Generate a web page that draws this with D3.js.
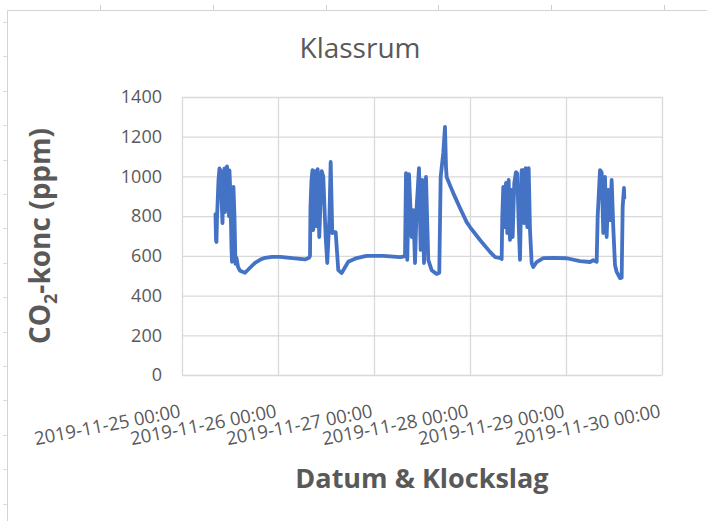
<!DOCTYPE html>
<html><head><meta charset="utf-8">
<script src="https://cdn.jsdelivr.net/npm/d3@7"></script>
<style>html,body{margin:0;padding:0;background:#fff;}svg{display:block;}</style>
</head><body>
<svg id="chart" width="707" height="521"></svg>
<script>
const chartTitle = "Klassrum";
const xTitle = "Datum & Klockslag";
const xTickLabels = ["2019-11-25 00:00","2019-11-26 00:00","2019-11-27 00:00","2019-11-28 00:00","2019-11-29 00:00","2019-11-30 00:00"];
const yTicks = [0,200,400,600,800,1000,1200,1400];
const times = [
"2019-11-25 08:22","2019-11-25 08:30","2019-11-25 08:37","2019-11-25 08:45","2019-11-25 09:07","2019-11-25 09:22","2019-11-25 09:37","2019-11-25 09:52","2019-11-25 10:07","2019-11-25 10:22","2019-11-25 10:37","2019-11-25 10:45","2019-11-25 11:00","2019-11-25 11:15","2019-11-25 11:30","2019-11-25 11:45","2019-11-25 11:52","2019-11-25 12:07","2019-11-25 12:22","2019-11-25 12:30","2019-11-25 12:52","2019-11-25 13:07","2019-11-25 13:22","2019-11-25 13:37","2019-11-25 14:00","2019-11-25 14:30","2019-11-25 15:45","2019-11-25 17:00","2019-11-25 18:15","2019-11-25 19:30","2019-11-25 20:45","2019-11-25 22:30","2019-11-26 00:30","2019-11-26 03:00","2019-11-26 05:30","2019-11-26 06:45","2019-11-26 07:45",
"2019-11-26 08:00","2019-11-26 08:07","2019-11-26 08:22","2019-11-26 08:37","2019-11-26 08:49","2019-11-26 09:15","2019-11-26 09:40","2019-11-26 09:55","2019-11-26 10:19","2019-11-26 10:55","2019-11-26 11:19","2019-11-26 11:55","2019-11-26 12:19","2019-11-26 12:52","2019-11-26 13:10","2019-11-26 13:34","2019-11-26 14:00","2019-11-26 14:25","2019-11-26 15:04","2019-11-26 15:55","2019-11-26 17:34","2019-11-26 19:40","2019-11-26 22:10","2019-11-27 02:19","2019-11-27 06:30","2019-11-27 07:19","2019-11-27 07:45",
"2019-11-27 08:00","2019-11-27 08:19","2019-11-27 08:45","2019-11-27 09:25","2019-11-27 09:49","2019-11-27 10:15","2019-11-27 10:40","2019-11-27 11:15","2019-11-27 11:40","2019-11-27 12:04","2019-11-27 12:30","2019-11-27 13:00","2019-11-27 13:34","2019-11-27 14:25","2019-11-27 15:40","2019-11-27 16:19","2019-11-27 16:40","2019-11-27 17:19","2019-11-27 17:45","2019-11-27 18:00","2019-11-27 18:10","2019-11-27 19:00","2019-11-27 19:49","2019-11-27 20:40","2019-11-27 21:30","2019-11-27 23:10","2019-11-28 00:00","2019-11-28 02:30","2019-11-28 05:00","2019-11-28 06:15","2019-11-28 07:30","2019-11-28 07:55",
"2019-11-28 08:04","2019-11-28 08:19","2019-11-28 08:45","2019-11-28 09:00","2019-11-28 09:19","2019-11-28 09:40","2019-11-28 10:00","2019-11-28 10:19","2019-11-28 10:40","2019-11-28 11:04","2019-11-28 11:30","2019-11-28 11:49","2019-11-28 12:10","2019-11-28 12:30","2019-11-28 12:55","2019-11-28 13:19","2019-11-28 13:34","2019-11-28 13:55","2019-11-28 14:19","2019-11-28 14:40","2019-11-28 15:00","2019-11-28 15:25","2019-11-28 15:49","2019-11-28 16:40","2019-11-28 18:19","2019-11-28 20:49","2019-11-29 00:10","2019-11-29 03:30","2019-11-29 06:00","2019-11-29 06:49","2019-11-29 07:40",
"2019-11-29 07:55","2019-11-29 08:30","2019-11-29 08:55","2019-11-29 09:19","2019-11-29 09:45","2019-11-29 10:10","2019-11-29 10:34","2019-11-29 11:00","2019-11-29 11:25","2019-11-29 11:49","2019-11-29 12:15","2019-11-29 12:40","2019-11-29 13:30","2019-11-29 13:55","2019-11-29 14:10","2019-11-29 14:30","2019-11-29 14:34"
];
const co2 = [
810,680,670,790,980,1040,1030,900,765,980,1040,820,1000,1050,990,800,1030,900,640,570,947,800,560,590,545,525,515,540,565,580,590,595,595,590,585,582,590,
600,846,980,1032,730,1027,750,1037,695,1027,1000,695,564,800,1073,715,720,720,528,514,570,589,600,600,594,596,600,
1017,580,1012,695,830,564,846,1042,630,982,564,997,580,528,509,515,997,1118,1249,1047,997,955,916,878,841,770,745,680,620,594,590,584,
796,947,745,967,715,982,680,932,695,967,1022,1015,765,580,1032,1032,765,1042,745,1042,730,564,544,569,589,590,588,574,569,578,570,
796,1032,1020,715,997,695,932,780,982,745,554,519,488,490,846,942,891
];

const parse = d3.timeParse("%Y-%m-%d %H:%M");
const data = times.map((t,i)=>({t:parse(t), v:co2[i]}));
const tickDates = xTickLabels.map(parse);

const svg = d3.select("#chart");
const grey = "#595959", grid = "#d9d9d9";
const m = {left:182, right:662, top:97, bottom:375};

// frame of the chart object
svg.append("line").attr("x1",7.5).attr("x2",707).attr("y1",10.5).attr("y2",10.5).attr("stroke","#d4d4d4");
svg.append("line").attr("x1",7.5).attr("x2",7.5).attr("y1",10.5).attr("y2",521).attr("stroke","#d4d4d4");
const rulerTop = d3.range(6).map(i=>100+i*112.8);
svg.selectAll(".rt").data(rulerTop).join("line").attr("x1",d=>Math.round(d)+0.5).attr("x2",d=>Math.round(d)+0.5).attr("y1",5).attr("y2",10).attr("stroke","#cfcfcf");
const rulerLeft = d3.range(15).map(i=>22+i*34.4);
svg.selectAll(".rl").data(rulerLeft).join("line").attr("y1",d=>Math.round(d)+0.5).attr("y2",d=>Math.round(d)+0.5).attr("x1",3).attr("x2",7).attr("stroke","#dcdcdc");

const x = d3.scaleTime().domain([tickDates[0], tickDates[tickDates.length-1]]).range([m.left, m.right]);
const y = d3.scaleLinear().domain([0,1400]).range([m.bottom, m.top]);

// gridlines
svg.append("g").attr("transform",`translate(${m.left},0)`)
  .call(d3.axisLeft(y).tickValues(yTicks).tickSize(-(m.right-m.left)).tickFormat(""))
  .call(g=>g.select(".domain").remove())
  .call(g=>g.selectAll("line").attr("stroke",grid).attr("stroke-width",1.3));
svg.append("g").attr("transform",`translate(0,${m.bottom})`)
  .call(d3.axisBottom(x).tickValues(tickDates).tickSize(-(m.bottom-m.top)).tickFormat(""))
  .call(g=>g.select(".domain").remove())
  .call(g=>g.selectAll("line").attr("stroke",grid).attr("stroke-width",1.3));

// y tick labels
svg.append("g").attr("transform",`translate(${m.left},0)`)
  .call(d3.axisLeft(y).tickValues(yTicks).tickSize(0).tickPadding(20).tickFormat(d3.format("d")))
  .call(g=>g.select(".domain").remove())
  .call(g=>g.selectAll("text").attr("fill",grey).attr("font-family","'Open Sans'").attr("font-size",18));

// x tick labels (rotated)
const xa = svg.append("g").attr("transform",`translate(0,${m.bottom})`)
  .call(d3.axisBottom(x).tickValues(tickDates).tickSize(0).tickFormat((d,i)=>xTickLabels[i]))
  .call(g=>g.select(".domain").remove());
xa.selectAll("text").attr("fill",grey).attr("font-family","'Open Sans'").attr("font-size",18.5)
  .attr("text-anchor","end").attr("dy",0).attr("y",0)
  .attr("transform","translate(-1,42) rotate(-11)");

// line
const line = d3.line().x(d=>x(d.t)).y(d=>y(d.v));
svg.append("path").datum(data).attr("d",line).attr("fill","none")
  .attr("stroke","#4472C4").attr("stroke-width",3.8).attr("stroke-linejoin","round").attr("stroke-linecap","round");

// titles
svg.append("text").attr("x",360).attr("y",58).attr("text-anchor","middle")
  .attr("font-family","'Open Sans'").attr("font-size",28).attr("fill",grey).text(chartTitle);
svg.append("text").attr("x",422).attr("y",488).attr("text-anchor","middle")
  .attr("font-family","'Open Sans'").attr("font-weight","bold").attr("font-size",27).attr("fill",grey).text(xTitle);
const yt = svg.append("text").attr("transform","translate(50,236) rotate(-90)").attr("text-anchor","middle")
  .attr("font-family","'Open Sans'").attr("font-weight","bold").attr("font-size",28).attr("fill",grey);
yt.append("tspan").text("CO");
yt.append("tspan").attr("font-size",18).attr("dy",7).text("2");
yt.append("tspan").attr("dy",-7).text("-konc (ppm)");
</script>
</body></html>
